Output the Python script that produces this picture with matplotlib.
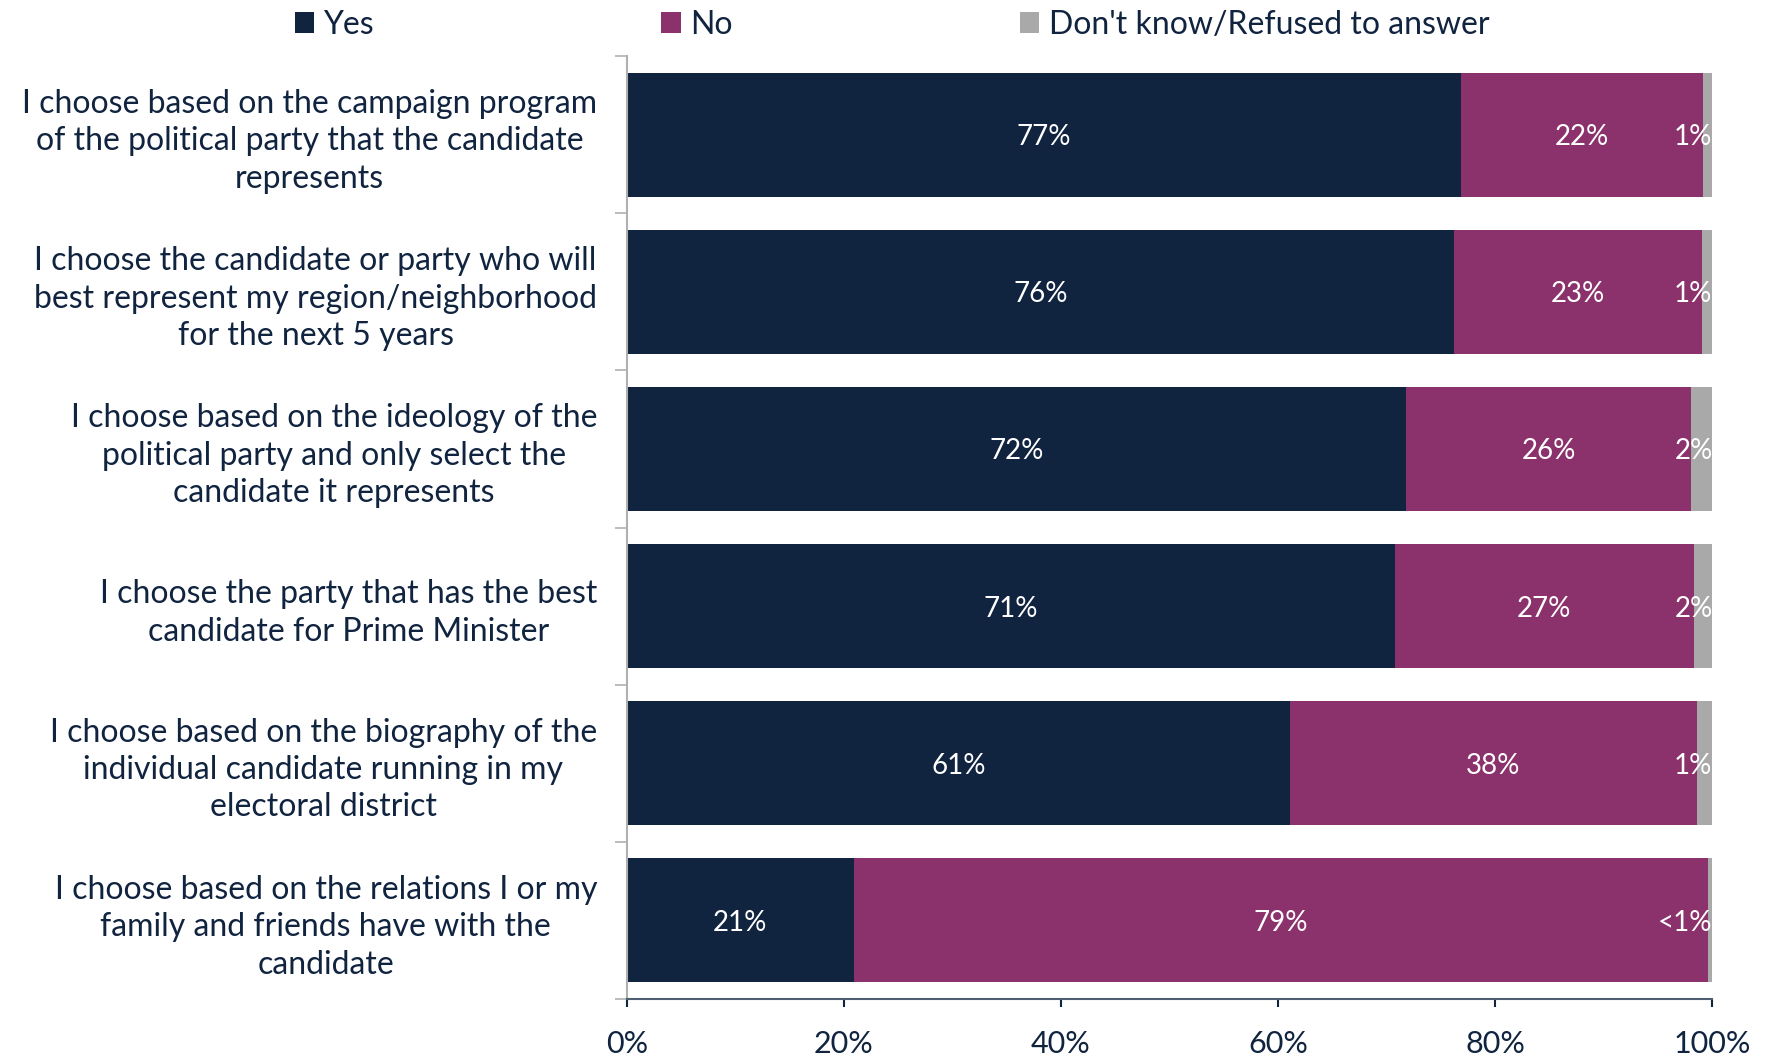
import matplotlib.pyplot as plt
import matplotlib.ticker as mticker
import numpy as np

plt.rcParams['font.family'] = ['Lato', 'DejaVu Sans']

categories = [
    'I choose based on the campaign program\nof the political party that the candidate\nrepresents',
    'I choose the candidate or party who will\nbest represent my region/neighborhood\nfor the next 5 years',
    'I choose based on the ideology of the\npolitical party and only select the\ncandidate it represents',
    'I choose the party that has the best\ncandidate for Prime Minister',
    'I choose based on the biography of the\nindividual candidate running in my\nelectoral district',
    'I choose based on the relations I or my\nfamily and friends have with the\ncandidate',
]
yes = [76.9, 76.2, 71.8, 70.8, 61.1, 20.9]
no = [22.3, 22.9, 26.3, 27.5, 37.5, 78.7]
dk = [0.8, 0.9, 1.9, 1.7, 1.4, 0.4]
yes_lbl = ['77%', '76%', '72%', '71%', '61%', '21%']
no_lbl = ['22%', '23%', '26%', '27%', '38%', '79%']
dk_lbl = ['1%', '1%', '2%', '2%', '1%', '<1%']
series_names = ['Yes', 'No', "Don't know/Refused to answer"]

navy = '#10233f'
purple = '#8b326c'
grey = '#a9a9a9'
txt = '#10233f'

fig = plt.figure(figsize=(17.66, 10.58), dpi=100)
ax = fig.add_axes([0.355, 0.0558, 0.6144, 0.8912])

y = np.arange(len(categories))
yes = np.array(yes); no = np.array(no); dk = np.array(dk)
h = 0.79
b1 = ax.barh(y, yes, height=h, color=navy, label=series_names[0])
b2 = ax.barh(y, no, left=yes, height=h, color=purple, label=series_names[1])
b3 = ax.barh(y, dk, left=yes + no, height=h, color=grey, label=series_names[2])

# value labels (white, centred in segments; "don't know" pushed to the right end)
for i in range(len(y)):
    ax.text(yes[i] / 2, y[i], yes_lbl[i], ha='center', va='center_baseline', color='white', fontsize=20)
    ax.text(yes[i] + no[i] / 2, y[i], no_lbl[i], ha='center', va='center_baseline', color='white', fontsize=20)
    ax.text(100.05, y[i], dk_lbl[i], ha='right', va='center_baseline', color='white', fontsize=20)

ax.set_xlim(0, 100)
ax.set_ylim(len(categories) - 0.5, -0.5)
ax.xaxis.set_major_locator(mticker.MultipleLocator(20))
ax.xaxis.set_major_formatter(mticker.FuncFormatter(lambda v, p: '{:.0f}%'.format(v)))
ax.tick_params(axis='x', direction='out', length=6, width=1.5, color=navy,
               labelsize=22, labelcolor=txt, pad=16)

ax.set_yticks(y)
ax.set_yticklabels(categories)
ax.set_yticks(np.arange(-0.5, len(categories)), minor=True)
ax.tick_params(axis='y', which='major', length=0, pad=21.5, labelsize=23, labelcolor=txt)
ax.tick_params(axis='y', which='minor', length=9, width=1.2, color='#b0b0b0')
for lab in ax.get_yticklabels():
    lab.set_multialignment('center')
    lab.set_linespacing(1.31)

for s in ['top', 'right']:
    ax.spines[s].set_visible(False)
ax.spines['left'].set_color('#b0b0b0')
ax.spines['left'].set_linewidth(1.5)
ax.spines['bottom'].set_color('#4f5f73')
ax.spines['bottom'].set_linewidth(1.5)

fig.legend(handles=[b1, b2, b3], loc='upper left', bbox_to_anchor=(0.1505, 1.018), ncol=3,
           frameon=False, fontsize=23, handlelength=0.6, handleheight=0.6,
           handletextpad=0.3, columnspacing=9.0, labelcolor=txt)

fig.savefig('out.png', dpi=100)
